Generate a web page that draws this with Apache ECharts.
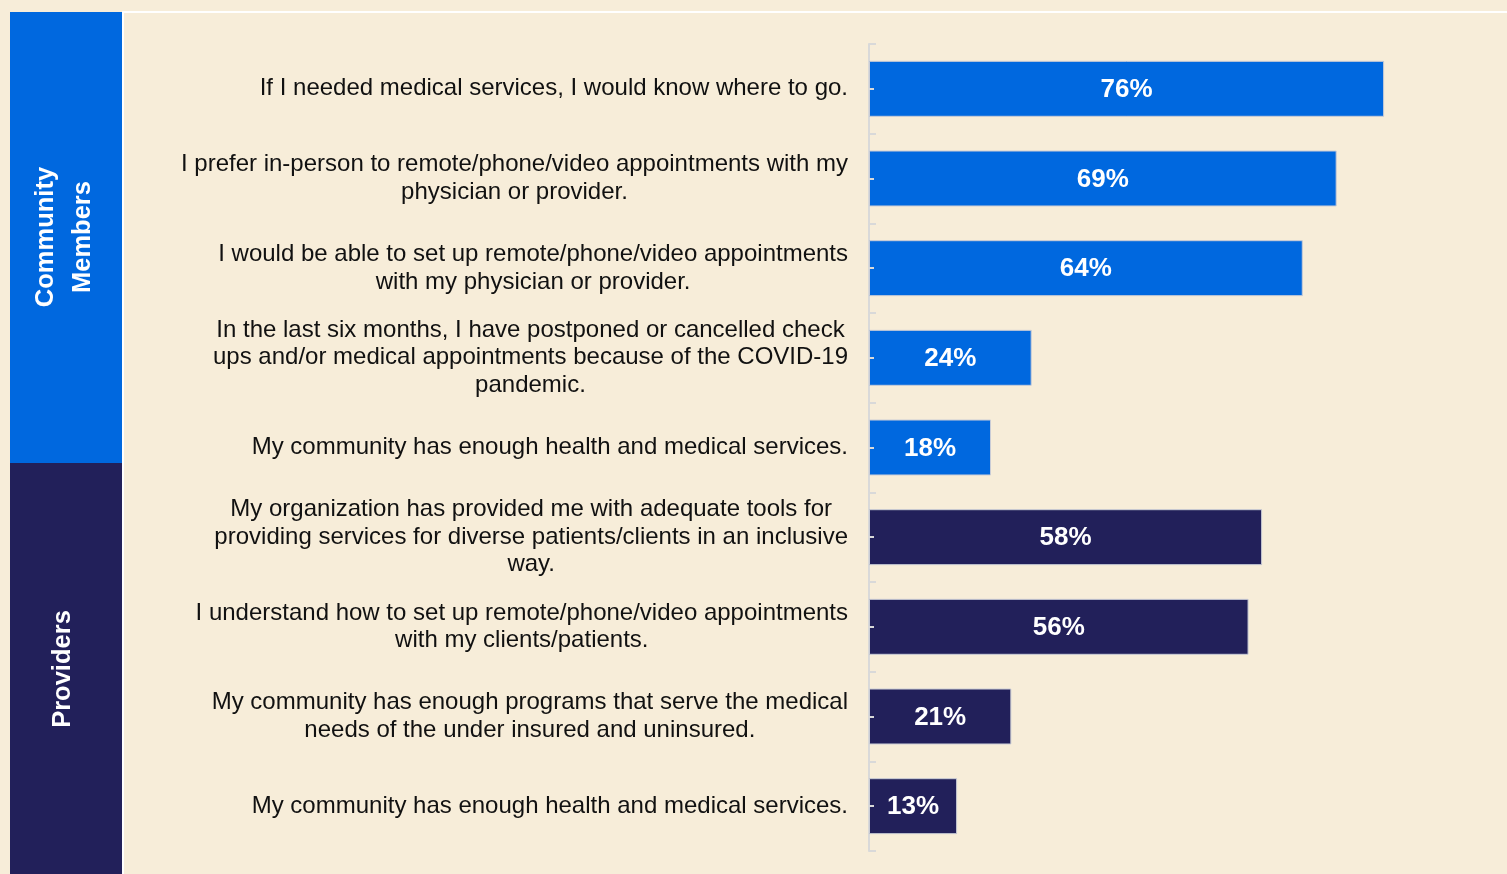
<!DOCTYPE html>
<html>
<head>
<meta charset="utf-8">
<title>Access to care survey</title>
<script src="https://cdn.jsdelivr.net/npm/echarts@6/dist/echarts.min.js"></script>
<style>
  html, body { margin: 0; padding: 0; background: #F7EDD9; }
  #chart { width: 1507px; height: 874px; }
</style>
</head>
<body>
<div id="chart"></div>
<script>
// Survey statements (top to bottom) and share of respondents who agreed
const statements = [
  'If I needed medical services, I would know where to go.',
  'I prefer in-person to remote/phone/video appointments with my\nphysician or provider.',
  'I would be able to set up remote/phone/video appointments\nwith my physician or provider.',
  'In the last six months, I have postponed or cancelled check\nups and/or medical appointments because of the COVID-19\npandemic.',
  'My community has enough health and medical services.',
  'My organization has provided me with adequate tools for\nproviding services for diverse patients/clients in an inclusive\nway.',
  'I understand how to set up remote/phone/video appointments\nwith my clients/patients.',
  'My community has enough programs that serve the medical\nneeds of the under insured and uninsured.',
  'My community has enough health and medical services.'
];
const agreePct = [76, 69, 64, 24, 18, 58, 56, 21, 13];
// Which respondent group answered each statement (index into groupTitles)
const respondentGroup = [0, 0, 0, 0, 0, 1, 1, 1, 1];
const groupTitles = ['Community\nMembers', 'Providers'];

const groupColors = ['#0068DF', '#22205A'];
const cream = '#F7EDD9';
const axisGrey = '#D9D9D9';

const chart = echarts.init(document.getElementById('chart'), null, { renderer: 'canvas' });

const categoryIds = statements.map((_, i) => String(i));

function statementLabel(value, index) {
  return statements[index].split('\n').map(line => '{c|' + line + '}').join('\n');
}

const option = {
  backgroundColor: cream,
  animation: false,
  grid: { left: 869, top: 44, width: 610, height: 807 },
  xAxis: {
    type: 'value',
    min: 0,
    max: 90,
    show: false
  },
  yAxis: [
    {
      type: 'category',
      inverse: true,
      data: categoryIds,
      axisLine: { show: true, lineStyle: { color: axisGrey, width: 2 } },
      axisTick: { show: true, inside: true, length: 7, lineStyle: { color: axisGrey, width: 2 } },
      axisLabel: {
        margin: 21,
        formatter: statementLabel,
        rich: {
          c: {
            fontFamily: '"Liberation Sans", Arial, sans-serif',
            fontSize: 24,
            lineHeight: 27.5,
            color: '#111111',
            align: 'center'
          }
        }
      },
      splitLine: { show: false }
    },
    {
      type: 'category',
      inverse: true,
      position: 'left',
      data: categoryIds,
      z: 5,
      axisLine: { show: false },
      axisTick: { show: true, inside: true, alignWithLabel: true, length: 5, lineStyle: { color: axisGrey, width: 2 } },
      axisLabel: { show: false },
      splitLine: { show: false }
    }
  ],
  series: [
    {
      type: 'bar',
      yAxisIndex: 0,
      barCategoryGap: '37.6%',
      data: agreePct.map((v, i) => ({
        value: v,
        itemStyle: { color: groupColors[respondentGroup[i]] }
      })),
      itemStyle: { borderColor: '#C9CCD6', borderWidth: 1 },
      label: {
        show: true,
        position: 'inside',
        offset: [0, 1],
        formatter: p => p.value + '%',
        color: '#FFFFFF',
        fontFamily: '"Liberation Sans", Arial, sans-serif',
        fontWeight: 'bold',
        fontSize: 26
      }
    }
  ],
  graphic: [
    // frame lines around the plotting area
    { type: 'rect', z: 0, shape: { x: 122, y: 11, width: 1385, height: 2 }, style: { fill: '#FFFFFF' } },
    { type: 'rect', z: 0, shape: { x: 122, y: 11, width: 2, height: 863 }, style: { fill: '#FFFFFF' } },
    // respondent group bands
    { type: 'rect', z: 1, shape: { x: 10, y: 12, width: 112, height: 451 }, style: { fill: groupColors[0] } },
    { type: 'rect', z: 1, shape: { x: 10, y: 463, width: 112, height: 411 }, style: { fill: groupColors[1] } },
    {
      type: 'text', z: 2, x: 64, y: 237, rotation: Math.PI / 2,
      style: {
        text: groupTitles[0], fill: '#FFFFFF',
        font: 'bold 25.5px "Liberation Sans", Arial, sans-serif',
        align: 'center', verticalAlign: 'middle', lineHeight: 37
      }
    },
    {
      type: 'text', z: 2, x: 63, y: 669, rotation: Math.PI / 2,
      style: {
        text: groupTitles[1], fill: '#FFFFFF',
        font: 'bold 25.5px "Liberation Sans", Arial, sans-serif',
        align: 'center', verticalAlign: 'middle'
      }
    }
  ]
};

chart.setOption(option);
</script>
</body>
</html>
